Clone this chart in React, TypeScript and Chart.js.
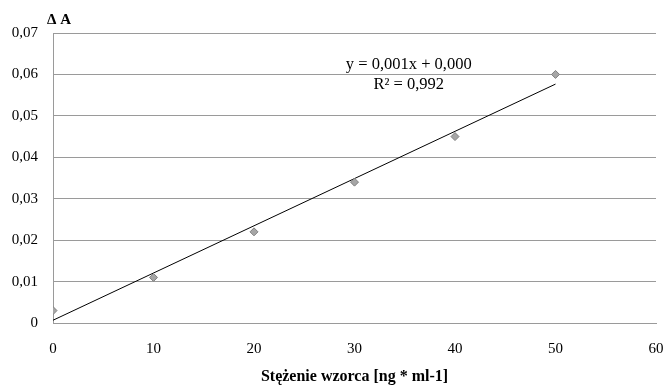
import React, { useEffect, useRef } from "react";
import { Chart, registerables } from "chart.js";

Chart.register(...registerables);

const concentrations = [0, 10, 20, 30, 40, 50];
const absorbance = [0.003, 0.011, 0.022, 0.034, 0.045, 0.06];
const xTicks = [0, 10, 20, 30, 40, 50, 60];
const yTicks = [0, 0.01, 0.02, 0.03, 0.04, 0.05, 0.06, 0.07];
const equationLabel = "y = 0,001x + 0,000";
const r2Label = "R² = 0,992";
const yTitle = "Δ A";
const xTitle = "Stężenie wzorca [ng * ml-1]";

function regression(xs: number[], ys: number[]) {
  const n = xs.length;
  const mx = xs.reduce((a, b) => a + b, 0) / n;
  const my = ys.reduce((a, b) => a + b, 0) / n;
  let sxy = 0;
  let sxx = 0;
  for (let i = 0; i < n; i++) {
    sxy += (xs[i] - mx) * (ys[i] - my);
    sxx += (xs[i] - mx) * (xs[i] - mx);
  }
  const slope = sxy / sxx;
  return { slope, intercept: my - slope * mx };
}

const FONT = "'Liberation Serif', 'Times New Roman', serif";

export default function App() {
  const ref = useRef<HTMLCanvasElement | null>(null);

  useEffect(() => {
    if (!ref.current) return;
    const { slope, intercept } = regression(concentrations, absorbance);
    const x0 = concentrations[0];
    const x1 = concentrations[concentrations.length - 1];
    const trend = [
      { x: x0, y: intercept + slope * x0 },
      { x: x1, y: intercept + slope * x1 },
    ];

    const textPlugin = {
      id: "texts",
      afterDraw(chart: any) {
        const { ctx, chartArea, scales } = chart;
        ctx.save();
        ctx.fillStyle = "#000";
        ctx.textBaseline = "middle";
        ctx.textAlign = "center";
        ctx.font = `bold 15px ${FONT}`;
        ctx.fillText(yTitle, chartArea.left + 6, chartArea.top - 13);
        ctx.font = `bold 16px ${FONT}`;
        ctx.fillText(xTitle, (chartArea.left + chartArea.right) / 2, 377);
        ctx.font = `16.5px ${FONT}`;
        const ex = scales.x.getPixelForValue(35.4);
        const ey = scales.y.getPixelForValue(0.0623);
        ctx.fillText(equationLabel, ex, ey);
        ctx.fillText(r2Label, ex, ey + 20);
        ctx.restore();
      },
    };

    const chart = new Chart(ref.current, {
      type: "scatter",
      data: {
        datasets: [
          {
            type: "line",
            data: trend,
            borderColor: "#000",
            borderWidth: 1,
            pointRadius: 0,
            fill: false,
            order: 2,
          },
          {
            type: "scatter",
            data: concentrations.map((x, i) => ({ x, y: absorbance[i] })),
            pointStyle: "rectRot",
            pointRadius: 4,
            backgroundColor: "#a6a6a6",
            borderColor: "#808080",
            borderWidth: 1,
            order: 1,
          },
        ],
      },
      options: {
        animation: false,
        responsive: false,
        layout: { padding: { top: 33, right: 0, left: 0, bottom: 0 } },
        plugins: {
          legend: { display: false },
          tooltip: { enabled: false },
          title: { display: false },
        },
        scales: {
          x: {
            type: "linear",
            min: 0,
            max: 60,
            afterBuildTicks: (s: any) => {
              s.ticks = xTicks.map((v) => ({ value: v }));
            },
            afterFit: (s: any) => {
              s.height = 64;
              s.paddingRight = 11;
              s.paddingLeft = 0;
            },
            grid: { display: false, drawTicks: false },
            border: { display: true, color: "#9a9a9a", width: 1 },
            ticks: {
              padding: 17,
              color: "#000",
              font: { family: FONT, size: 15 },
              maxRotation: 0,
              callback: (v: any) => String(v),
            },
          },
          y: {
            type: "linear",
            min: 0,
            max: 0.07,
            afterBuildTicks: (s: any) => {
              s.ticks = yTicks.map((v) => ({ value: v }));
            },
            afterFit: (s: any) => {
              s.width = 53;
              s.paddingTop = 0;
              s.paddingBottom = 0;
            },
            grid: { display: true, drawTicks: false, color: "#9a9a9a", lineWidth: 1 },
            border: { display: true, color: "#9a9a9a", width: 1 },
            ticks: {
              padding: 15,
              color: "#000",
              font: { family: FONT, size: 15 },
              callback: (v: any) => {
                const n = Number(v);
                if (Math.abs(n) < 1e-9) return "0";
                return (Math.round(n * 100) / 100).toFixed(2).replace(".", ",");
              },
            },
          },
        },
      },
      plugins: [textPlugin],
    });
    return () => chart.destroy();
  }, []);

  return (
    <div style={{ position: "absolute", left: 0, top: 0, width: 667, height: 387 }}>
      <canvas ref={ref} width={667} height={387} style={{ display: "block" }} />
    </div>
  );
}
